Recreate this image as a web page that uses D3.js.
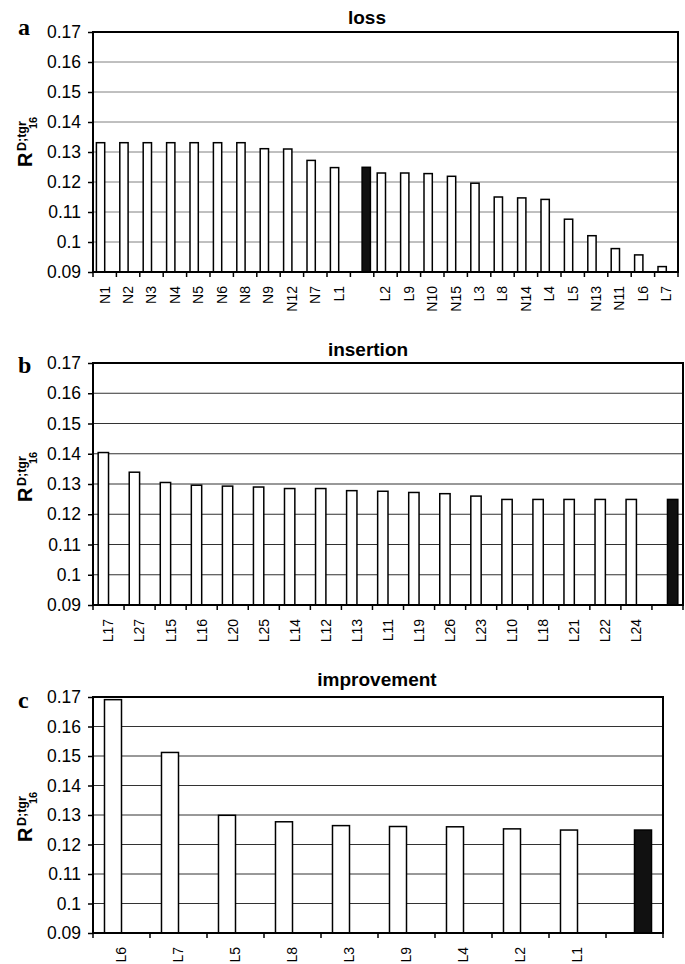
<!DOCTYPE html>
<html>
<head>
<meta charset="utf-8">
<script src="https://cdn.jsdelivr.net/npm/d3@7"></script>
<style>
  body { margin: 0; background: #fff; }
  svg { display: block; }
</style>
</head>
<body>
<div id="chart"></div>
<script>
// Data (blank label = reference bar, drawn black)
const lossCats = ['N1', 'N2', 'N3', 'N4', 'N5', 'N6', 'N8', 'N9', 'N12', 'N7', 'L1', '',
  'L2', 'L9', 'N10', 'N15', 'L3', 'L8', 'N14', 'L4', 'L5', 'N13', 'N11', 'L6', 'L7'];
const lossVals = [0.1331, 0.1331, 0.1331, 0.1331, 0.1331, 0.1331, 0.1331, 0.1311, 0.1310, 0.1272, 0.1248, null,
  0.1230, 0.1230, 0.1228, 0.1219, 0.1196, 0.1150, 0.1147, 0.1142, 0.1076, 0.1021, 0.0978, 0.0957, 0.0918];

const insCats = ['L17', 'L27', 'L15', 'L16', 'L20', 'L25', 'L14', 'L12', 'L13', 'L11',
  'L19', 'L26', 'L23', 'L10', 'L18', 'L21', 'L22', 'L24', ''];
const insVals = [0.1404, 0.1339, 0.1305, 0.1296, 0.1293, 0.1290, 0.1285, 0.1285, 0.1278, 0.1276,
  0.1272, 0.1268, 0.1260, 0.1249, 0.1249, 0.1249, 0.1249, 0.1249, null];

const impCats = ['L6', 'L7', 'L5', 'L8', 'L3', 'L9', 'L4', 'L2', 'L1', ''];
const impVals = [0.1691, 0.1512, 0.1299, 0.1277, 0.1264, 0.1261, 0.1260, 0.1253, 0.1249, null];

// value of the black reference bar (same in all three panels)
const refVal = 0.1249;

const yTicks = [0.09, 0.1, 0.11, 0.12, 0.13, 0.14, 0.15, 0.16, 0.17];

const svg = d3.select('#chart')
  .append('svg')
  .attr('width', 685)
  .attr('height', 964);

function drawPanel(p) {
  const g = svg.append('g');

  const y = d3.scaleLinear()
    .domain([0.09, 0.17])
    .range([p.bottom, p.top]);

  // outer scale for categories, inner scale for the two series
  const x0 = d3.scaleBand()
    .domain(p.cats)
    .range([p.left, p.right])
    .padding(0);

  const x1 = d3.scaleBand()
    .domain(['val', 'ref'])
    .range([0, x0.bandwidth()])
    .paddingInner(0)
    .paddingOuter(p.gap);

  // gridlines
  g.append('g')
    .selectAll('line')
    .data(yTicks)
    .enter()
    .append('line')
    .attr('x1', p.left)
    .attr('x2', p.right)
    .attr('y1', d => y(d))
    .attr('y2', d => y(d))
    .attr('stroke', p.grid)
    .attr('stroke-width', 1);

  // white bars
  g.append('g')
    .selectAll('rect')
    .data(p.cats.map((c, i) => ({ c: c, v: p.vals[i] })).filter(d => d.v != null))
    .enter()
    .append('rect')
    .attr('x', d => x0(d.c) + x1('val'))
    .attr('width', x1.bandwidth())
    .attr('y', d => y(d.v))
    .attr('height', d => y(0.09) - y(d.v))
    .attr('fill', '#fff')
    .attr('stroke', '#000')
    .attr('stroke-width', 1.5);

  // black reference bar
  g.append('rect')
    .attr('x', x0('') + x1('ref'))
    .attr('width', x1.bandwidth())
    .attr('y', y(refVal))
    .attr('height', y(0.09) - y(refVal))
    .attr('fill', '#111')
    .attr('stroke', '#000')
    .attr('stroke-width', 1.5);

  // plot frame
  g.append('rect')
    .attr('x', p.left)
    .attr('y', p.top)
    .attr('width', p.right - p.left)
    .attr('height', p.bottom - p.top)
    .attr('fill', 'none')
    .attr('stroke', '#000')
    .attr('stroke-width', 2);

  // y axis
  const yAxis = g.append('g')
    .attr('transform', `translate(${p.left}, 0)`)
    .call(d3.axisLeft(y)
      .tickValues(yTicks)
      .tickSize(5)
      .tickPadding(7)
      .tickFormat(d => String(+d.toFixed(2))));
  yAxis.select('.domain').remove();
  yAxis.selectAll('line').attr('stroke', '#000').attr('stroke-width', 1.5);
  yAxis.selectAll('text')
    .attr('fill', '#000')
    .style('font-family', '"Liberation Sans", Arial, sans-serif')
    .style('font-size', '17.5px');

  // x tick marks at category boundaries
  const bounds = p.cats.map(c => x0(c)).concat([p.right]);
  g.append('g')
    .selectAll('line')
    .data(bounds)
    .enter()
    .append('line')
    .attr('x1', d => d)
    .attr('x2', d => d)
    .attr('y1', p.bottom)
    .attr('y2', p.bottom + 5)
    .attr('stroke', '#000')
    .attr('stroke-width', 1.5);

  // x labels, rotated
  g.append('g')
    .selectAll('text')
    .data(p.cats)
    .enter()
    .append('text')
    .attr('transform', d => `translate(${x0(d) + x0.bandwidth() / 2}, ${p.bottom + 14}) rotate(-90)`)
    .attr('dy', '0.35em')
    .attr('text-anchor', 'end')
    .style('font-family', '"Liberation Sans", Arial, sans-serif')
    .style('font-size', '14px')
    .text(d => d);

  // title
  g.append('text')
    .attr('x', p.titleX)
    .attr('y', p.titleY)
    .attr('text-anchor', 'middle')
    .style('font-family', '"Liberation Sans", Arial, sans-serif')
    .style('font-size', '19px')
    .style('font-weight', 'bold')
    .text(p.title);

  // panel letter
  g.append('text')
    .attr('x', 18)
    .attr('y', p.letterY)
    .style('font-family', '"Liberation Serif", "Times New Roman", serif')
    .style('font-size', '24px')
    .style('font-weight', 'bold')
    .text(p.letter);

  // y axis title R^{D;tgr}_16
  const lab = g.append('g')
    .attr('transform', `translate(32, ${p.labelY}) rotate(-90)`)
    .style('font-family', '"Liberation Sans", Arial, sans-serif')
    .style('font-weight', 'bold');
  lab.append('text').attr('x', 0).attr('y', 0).style('font-size', '20px').text('R');
  lab.append('text').attr('x', 16).attr('y', -6).style('font-size', '12.5px').text('D;tgr');
  lab.append('text').attr('x', 38).attr('y', 5).style('font-size', '11px').text('16');
}

drawPanel({
  cats: lossCats, vals: lossVals, title: 'loss', letter: 'a',
  left: 93, right: 678, top: 32, bottom: 272, gap: 0.41, grid: '#808080',
  titleX: 367, titleY: 24, letterY: 35, labelY: 167
});

drawPanel({
  cats: insCats, vals: insVals, title: 'insertion', letter: 'b',
  left: 93, right: 683, top: 363, bottom: 605, gap: 0.5, grid: '#333',
  titleX: 368, titleY: 356, letterY: 373, labelY: 502
});

drawPanel({
  cats: impCats, vals: impVals, title: 'improvement', letter: 'c',
  left: 93, right: 663, top: 697, bottom: 933, gap: 0.675, grid: '#333',
  titleX: 377, titleY: 686, letterY: 708, labelY: 842
});
</script>
</body>
</html>
